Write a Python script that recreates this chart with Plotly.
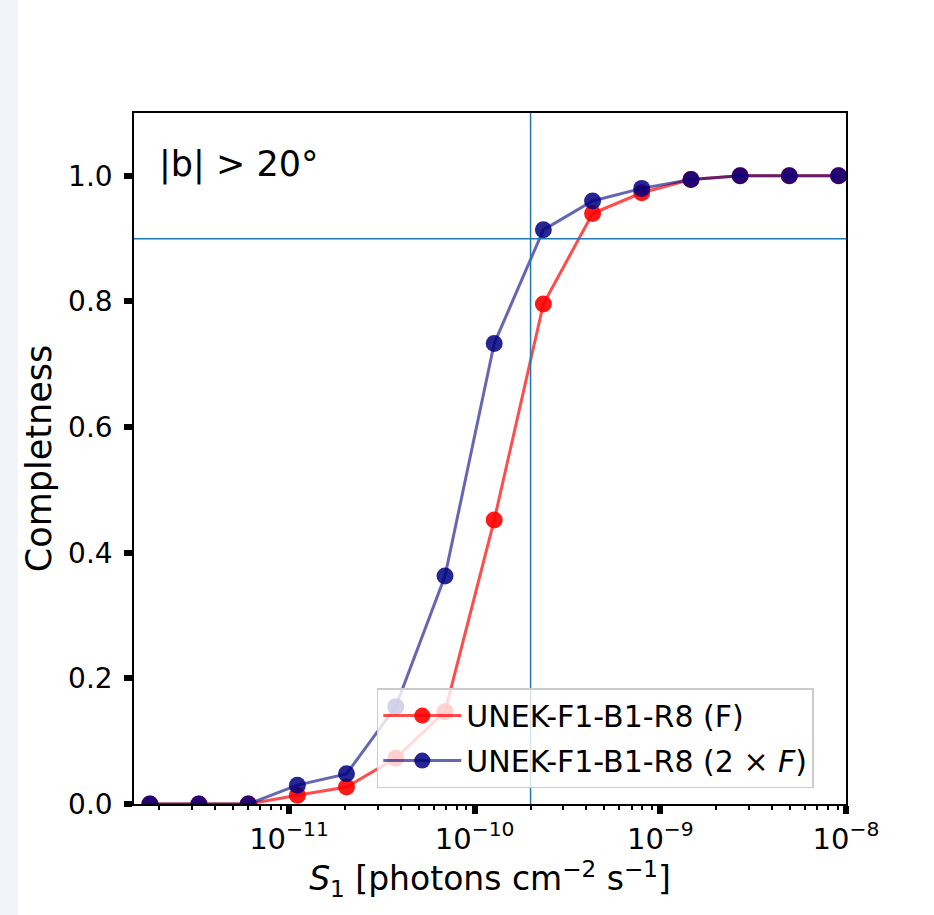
import plotly.graph_objects as go

# Data
s1 = [1.78e-12, 3.27e-12, 6.03e-12, 1.109e-11, 2.04e-11, 3.76e-11, 6.92e-11,
      1.274e-10, 2.344e-10, 4.315e-10, 7.94e-10, 1.462e-9, 2.69e-9, 4.95e-9, 9.12e-9]
comp_f = [0.0, 0.0, 0.0, 0.014, 0.027, 0.073, 0.147,
          0.452, 0.796, 0.940, 0.973, 0.994, 1.0, 1.0, 1.0]
comp_2f = [0.0, 0.0, 0.0, 0.030, 0.048, 0.155, 0.363,
           0.733, 0.914, 0.960, 0.980, 0.994, 1.0, 1.0, 1.0]
name_f = "UNEK-F1-B1-R8 (F)"
name_2f = "UNEK-F1-B1-R8 (2 × <i>F</i>)"
vline_x = 2e-10
hline_y = 0.9
y_ticks = [0.0, 0.2, 0.4, 0.6, 0.8, 1.0]
x_ticks = [1e-11, 1e-10, 1e-9, 1e-8]
x_ticktext = ["10<sup>−11</sup>", "10<sup>−10</sup>", "10<sup>−9</sup>", "10<sup>−8</sup>"]
minor_decades = [1e-12, 1e-11, 1e-10, 1e-9]
minor_digits = [2, 3, 4, 5, 6, 7, 8, 9]
x_minor = [d * m for d in minor_decades for m in minor_digits]

FONT = "DejaVu Sans"

fig = go.Figure()
fig.add_trace(go.Scatter(
    x=s1, y=comp_f, mode="lines+markers", name=name_f, legendgroup="f",
    line=dict(color="rgba(255,0,0,0.7)", width=3),
    marker=dict(color="rgba(255,0,0,0.9)", size=17, line=dict(width=0)),
))
fig.add_trace(go.Scatter(
    x=s1, y=comp_2f, mode="lines+markers", name=name_2f, legendgroup="2f",
    line=dict(color="rgba(0,0,128,0.6)", width=3),
    marker=dict(color="rgba(0,0,128,0.85)", size=17, line=dict(width=0)),
))

fig.add_shape(type="line", xref="x", yref="paper", x0=vline_x, x1=vline_x, y0=0, y1=1,
              line=dict(color="#1f77b4", width=1.5))
fig.add_shape(type="line", xref="paper", yref="y", x0=0, x1=1, y0=hline_y, y1=hline_y,
              line=dict(color="#1f77b4", width=1.5))
# page strip on the left
fig.add_shape(type="rect", xref="paper", yref="paper", x0=-134/712, x1=-116/712,
              y0=-111/691, y1=(691+113)/691, fillcolor="#f3f4f9", line=dict(width=0),
              layer="below")

fig.add_annotation(text="|b| > 20°", xref="paper", yref="paper", x=0.033, y=0.925,
                   xanchor="left", yanchor="middle", showarrow=False,
                   font=dict(family=FONT, size=35, color="black"))

fig.update_layout(
    width=934, height=915,
    margin=dict(l=134, r=88, t=113, b=111),
    paper_bgcolor="white", plot_bgcolor="white",
    showlegend=True,
    legend=dict(x=0.341, y=0.023, xanchor="left", yanchor="bottom",
                bgcolor="rgba(255,255,255,0.8)", bordercolor="#cccccc", borderwidth=1.5,
                font=dict(family=FONT, size=30, color="black"),
                itemwidth=78, tracegroupgap=3),
    xaxis=dict(
        type="log", range=[-11.835, -8.0],
        tickvals=x_ticks, ticktext=x_ticktext,
        ticks="outside", ticklen=8, tickwidth=6, tickcolor="black",
        minor=dict(tickvals=x_minor, ticks="outside", ticklen=4, tickwidth=1.5,
                   tickcolor="black", showgrid=False),
        showline=True, linecolor="black", linewidth=1.5, mirror=True,
        showgrid=False, zeroline=False,
        tickfont=dict(family=FONT, size=29, color="black"),
        title=dict(text="<i>S</i><sub>1</sub> [photons cm<sup>−2</sup> s<sup>−1</sup>]",
                   font=dict(family=FONT, size=33, color="black"), standoff=10),
    ),
    yaxis=dict(
        range=[0, 1.1], tickvals=y_ticks, tickformat=".1f",
        ticks="outside", ticklen=8, tickwidth=6, tickcolor="black",
        ticklabelstandoff=6,
        showline=True, linecolor="black", linewidth=1.5, mirror=True,
        showgrid=False, zeroline=False,
        tickfont=dict(family=FONT, size=28, color="black"),
        title=dict(text="Completness", font=dict(family=FONT, size=35, color="black"),
                   standoff=6),
    ),
)

fig.write_html("out.html")
